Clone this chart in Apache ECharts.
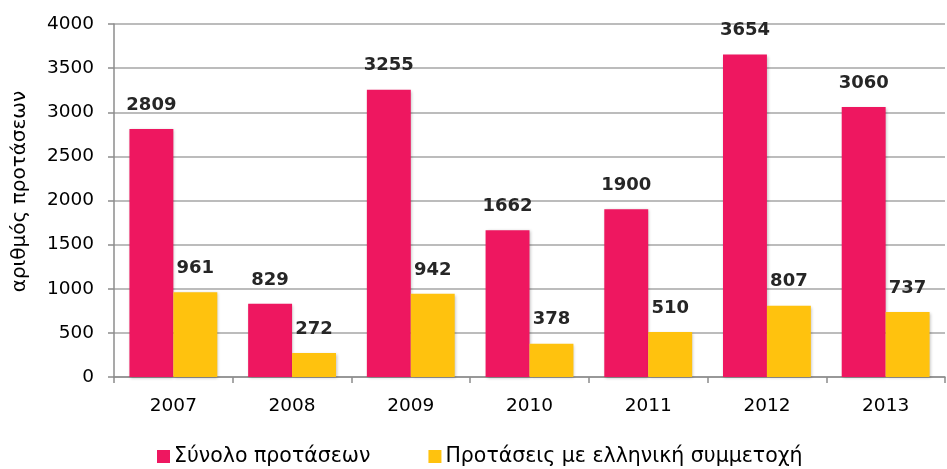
<!DOCTYPE html>
<html>
<head>
  <meta charset="UTF-8">
  <title>Προτάσεις</title>
  <style>
    html, body { margin: 0; padding: 0; background: #fff; }
    #chart { width: 947px; height: 469px; }
  </style>
  <script type="text/javascript" src="https://cdn.jsdelivr.net/npm/echarts@6/dist/echarts.min.js"></script>
</head>
<body>
<div id="chart"></div>
<script>
  var years = ['2007', '2008', '2009', '2010', '2011', '2012', '2013'];
  var totalProposals = [2809, 829, 3255, 1662, 1900, 3654, 3060];
  var greekProposals = [961, 272, 942, 378, 510, 807, 737];

  var myChart = echarts.init(document.getElementById('chart'));

  var labelStyle = {
    show: true,
    position: 'top',
    distance: 15,
    color: '#262626',
    fontWeight: 'bold',
    fontSize: 18,
    fontFamily: 'DejaVu Sans'
  };
  var shadow = {
    shadowBlur: 3,
    shadowColor: 'rgba(0,0,0,0.25)',
    shadowOffsetX: 1,
    shadowOffsetY: 1
  };

  var option = {
    animation: false,
    textStyle: { fontFamily: 'DejaVu Sans' },
    grid: {
      left: 114,
      right: 2,
      top: 24,
      bottom: 92
    },
    legend: {
      top: 441,
      left: 152,
      itemWidth: 13,
      itemHeight: 13,
      itemGap: 58,
      icon: 'rect',
      textStyle: { fontSize: 20.5, color: '#000', padding: [0, 0, 0, -1] },
      data: ['Σύνολο προτάσεων', 'Προτάσεις με ελληνική συμμετοχή']
    },
    xAxis: {
      type: 'category',
      data: years,
      axisLine: { lineStyle: { color: '#8c8c8c', width: 1.5 } },
      axisTick: { show: true, length: 6, lineStyle: { color: '#8c8c8c', width: 1.5 } },
      axisLabel: { color: '#000', fontSize: 18.5, margin: 20 }
    },
    yAxis: {
      type: 'value',
      min: 0,
      max: 4000,
      interval: 500,
      name: 'αριθμός προτάσεων',
      nameLocation: 'middle',
      nameGap: 84,
      nameTextStyle: { fontSize: 20, color: '#000', padding: [0, 0, 0, 18] },
      axisLine: { show: true, lineStyle: { color: '#8c8c8c', width: 1.5 } },
      axisTick: { show: true, length: 6, lineStyle: { color: '#8c8c8c', width: 1.5 } },
      splitLine: { lineStyle: { color: '#a6a6a6', width: 1.5 } },
      axisLabel: {
        color: '#000',
        fontSize: 18.5,
        margin: 20,
        formatter: function (v) { return String(v); }
      }
    },
    series: [{
      name: 'Σύνολο προτάσεων',
      type: 'bar',
      barGap: 0,
      barCategoryGap: '26%',
      itemStyle: Object.assign({ color: '#EE1760' }, shadow),
      label: labelStyle,
      data: totalProposals
    }, {
      name: 'Προτάσεις με ελληνική συμμετοχή',
      type: 'bar',
      itemStyle: Object.assign({ color: '#FFC20E' }, shadow),
      label: labelStyle,
      data: greekProposals
    }]
  };
  myChart.setOption(option);
</script>
</body>
</html>
